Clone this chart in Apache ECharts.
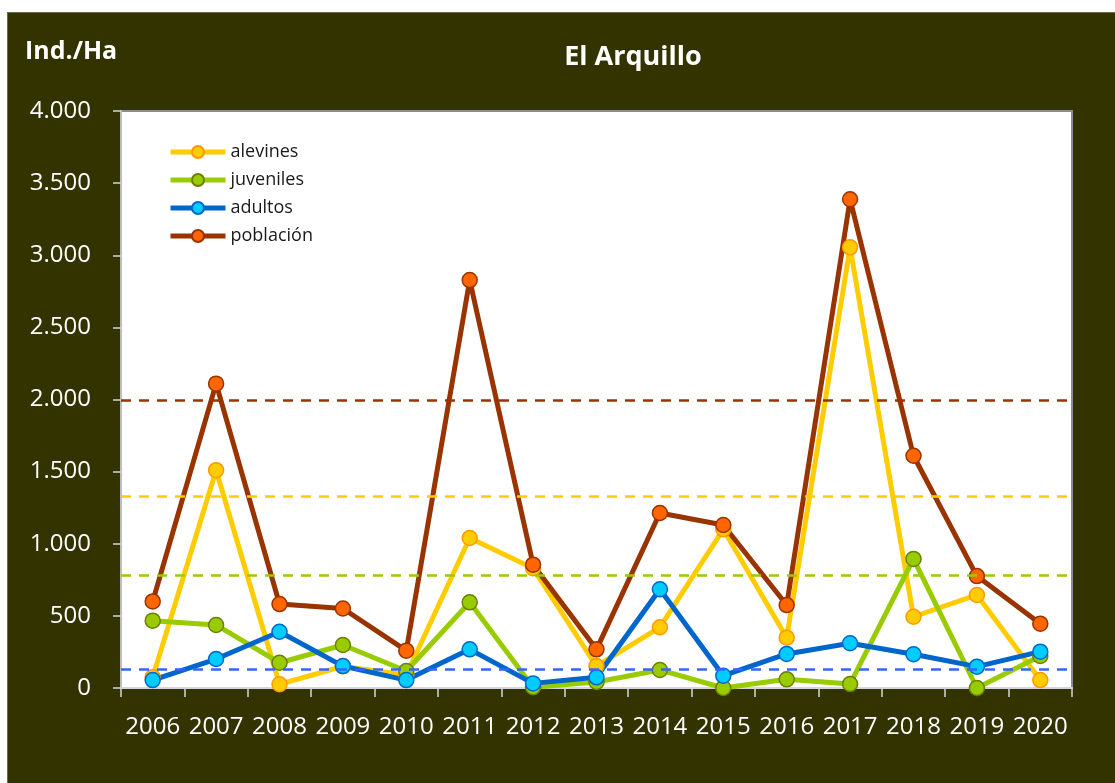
<!DOCTYPE html>
<html>
<head>
<meta charset="utf-8">
<script src="https://cdn.jsdelivr.net/npm/echarts@6/dist/echarts.min.js"></script>
<style>
  html, body { margin: 0; padding: 0; background: #ffffff; }
  #chart {
    position: absolute; left: 8px; top: 13px; width: 1107px; height: 770px;
    background: #333300; outline: 1px solid #6b6b55;
  }
</style>
</head>
<body>
<div id="chart"></div>
<script>
// Densidad de truchas por clase de edad, El Arquillo (ind./ha)
const years = ['2006','2007','2008','2009','2010','2011','2012','2013','2014','2015','2016','2017','2018','2019','2020'];
const alevines  = [75, 1510, 26, 150, 90, 1040, 830, 152, 421, 1100, 349, 3055, 494, 645, 55];
const juveniles = [467, 437, 175, 298, 118, 594, 5, 42, 125, 0, 60, 28, 895, 0, 222];
const adultos   = [55, 201, 390, 152, 55, 268, 32, 74, 684, 85, 236, 310, 234, 148, 252];
const poblacion = [600, 2110, 582, 551, 259, 2828, 855, 268, 1213, 1130, 575, 3388, 1610, 776, 446];
// Valores de referencia (líneas discontinuas) por clase
const referencias = { alevines: 1326, juveniles: 783, adultos: 132, poblacion: 1992 };
const yTicks = [0, 500, 1000, 1500, 2000, 2500, 3000, 3500, 4000];

const FONT = '"Open Sans", "DejaVu Sans", sans-serif';

function fmtMiles(v) {
  return String(v).replace(/\B(?=(\d{3})+(?!\d))/g, '.');
}

function serie(name, data, lineColor, fill, border, ref, refColor) {
  return {
    name: name,
    type: 'line',
    data: data,
    symbol: 'circle',
    symbolSize: 15,
    lineStyle: { color: lineColor, width: 5 },
    itemStyle: { color: fill, borderColor: border, borderWidth: 1.5 },
    emphasis: { disabled: true },
    markLine: {
      silent: true,
      symbol: 'none',
      label: { show: false },
      lineStyle: { color: refColor, type: [10, 8], width: 2.5 },
      data: [{ yAxis: ref }]
    }
  };
}

const chart = echarts.init(document.getElementById('chart'), null, { renderer: 'canvas' });
chart.setOption({
  animation: false,
  backgroundColor: '#333300',
  graphic: [
    { type: 'text', left: 17, top: 26,
      style: { text: 'Ind./Ha', fill: '#ffffff', font: 'bold 25px ' + FONT } },
    { type: 'text', x: 625, y: 44,
      style: { text: 'El Arquillo', fill: '#ffffff', font: 'bold 27px ' + FONT,
               textAlign: 'center', textVerticalAlign: 'middle' } }
  ],
  legend: {
    orient: 'vertical',
    left: 155, top: 124,
    itemWidth: 55, itemHeight: 15, itemGap: 8,
    lineStyle: { width: 5 },
    textStyle: { color: '#1a1a1a', fontFamily: FONT, fontSize: 18, lineHeight: 20 },
    data: ['alevines', 'juveniles', 'adultos', 'población']
  },
  grid: {
    left: 113, right: 43, top: 98, bottom: 95,
    show: true, backgroundColor: '#ffffff', borderColor: '#8c8c8c', borderWidth: 2
  },
  xAxis: {
    type: 'category',
    data: years,
    boundaryGap: true,
    axisLine: { lineStyle: { color: '#d6d6d6', width: 2 } },
    axisTick: { show: true, length: 9, lineStyle: { color: '#d6d6d6', width: 1.5 } },
    axisLabel: { color: '#ffffff', fontFamily: FONT, fontSize: 24, margin: 27, interval: 0 }
  },
  yAxis: {
    type: 'value',
    min: yTicks[0], max: yTicks[yTicks.length - 1], interval: 500,
    axisLine: { show: true, lineStyle: { color: '#bdbdbd', width: 2 } },
    axisTick: { show: true, length: 8, lineStyle: { color: '#d6d6d6', width: 1.5 } },
    splitLine: { show: false },
    axisLabel: { color: '#ffffff', fontFamily: FONT, fontSize: 24, margin: 30,
                 formatter: fmtMiles }
  },
  series: [
    serie('alevines',  alevines,  '#ffcc00', '#ffcc00', '#ff9900', referencias.alevines,  '#ffcc00'),
    serie('juveniles', juveniles, '#99cc00', '#99cc00', '#6b7f00', referencias.juveniles, '#99cc00'),
    serie('adultos',   adultos,   '#0066cc', '#00ccff', '#0066cc', referencias.adultos,   '#3366ff'),
    serie('población', poblacion, '#993300', '#ff6600', '#993300', referencias.poblacion, '#993300')
  ]
});
</script>
</body>
</html>
